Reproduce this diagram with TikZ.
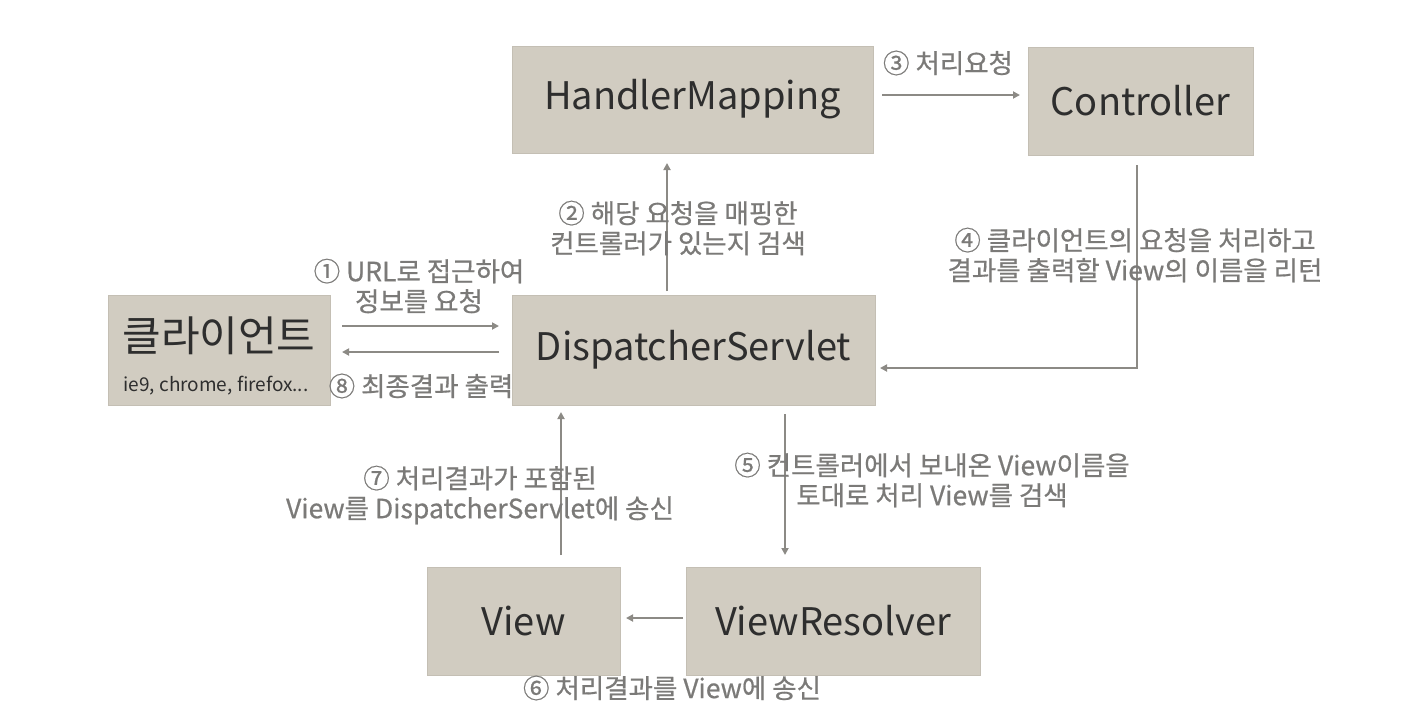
\documentclass[tikz,border=0pt]{standalone}
\usepackage{fontspec}
\setmainfont{Noto Sans CJK KR}
\newfontfamily\lblfont[FakeBold=0.6]{Noto Sans CJK KR}
\usetikzlibrary{arrows.meta}
\definecolor{boxfill}{HTML}{D1CCC1}
\definecolor{boxline}{HTML}{C4BFB4}
\definecolor{arrowc}{HTML}{8C8A85}
\definecolor{labelc}{HTML}{7B7A78}
\definecolor{boxtext}{HTML}{2E2E2E}
\begin{document}
\begin{tikzpicture}[x=1pt,y=-1pt,
  comp/.style={draw=boxline,line width=1pt,fill=boxfill,inner sep=0pt,text=boxtext,font=\fontsize{38}{44}\selectfont},
  flow/.style={draw=arrowc,line width=2.2pt,-{Triangle[length=7pt,width=7pt]}},
  lbl/.style={text=labelc,font=\lblfont\fontsize{26.5}{30}\selectfont,align=center,inner sep=0pt}]
\useasboundingbox (0,0) rectangle (1401,724);
% boxes
\node[comp,minimum width=361pt,minimum height=107pt] (hm) at (692.5,99.5) {HandlerMapping};
\node[comp,minimum width=225pt,minimum height=108pt] (ctl) at (1140.5,101) {Controller};
\node[comp,minimum width=222pt,minimum height=110pt] (cli) at (219,350) {};
\node[comp,minimum width=363pt,minimum height=110pt] (ds) at (693.5,350) {DispatcherServlet};
\node[comp,minimum width=193pt,minimum height=108pt] (view) at (523.5,621) {View};
\node[comp,minimum width=294pt,minimum height=108pt] (vr) at (833,621) {ViewResolver};
\node[text=boxtext,font=\fontsize{42}{46}\selectfont,inner sep=0pt] (clit) at (219,336) {클라이언트};
\node[text=boxtext,font=\fontsize{19}{21}\selectfont,inner sep=0pt] (clis) at (216,386) {ie9, chrome, firefox...};
% coordinates
\coordinate (a1s) at (342,326); \coordinate (a1e) at (499,326);
\coordinate (a8s) at (499,352); \coordinate (a8e) at (342,352);
\coordinate (a2s) at (667,291); \coordinate (a2e) at (667,163);
\coordinate (a3s) at (882,95);  \coordinate (a3e) at (1020,95);
\coordinate (a4s) at (1137,165); \coordinate (a4c) at (1137,368); \coordinate (a4e) at (880,368);
\coordinate (a5s) at (785,414); \coordinate (a5e) at (785,555);
\coordinate (a6s) at (683,618); \coordinate (a6e) at (626,618);
\coordinate (a7s) at (561,555); \coordinate (a7e) at (561,412);
% arrows
\draw[flow] (a1s) -- (a1e);
\draw[flow] (a8s) -- (a8e);
\draw[flow] (a2s) -- (a2e);
\draw[flow] (a3s) -- (a3e);
\draw[flow] (a4s) -- (a4c) -- (a4e);
\draw[flow] (a5s) -- (a5e);
\draw[flow] (a6s) -- (a6e);
\draw[flow] (a7s) -- (a7e);
% labels
\node[lbl] (l1) at (419,286) {① URL로 접근하여\\정보를 요청};
\node[lbl] (l2) at (678,228) {② 해당 요청을 매핑한\\컨트롤러가 있는지 검색};
\node[lbl] (l3) at (948,63) {③ 처리요청};
\node[lbl] (l4) at (1135,255) {④ 클라이언트의 요청을 처리하고\\결과를 출력할 View의 이름을 리턴};
\node[lbl] (l5) at (932,480) {⑤ 컨트롤러에서 보내온 View이름을\\토대로 처리 View를 검색};
\node[lbl] (l6) at (672,688) {⑥ 처리결과를 View에 송신};
\node[lbl] (l7) at (480,495) {⑦ 처리결과가 포함된\\View를 DispatcherServlet에 송신};
\node[lbl] (l8) at (421,386) {⑧ 최종결과 출력};
\end{tikzpicture}
\end{document}
